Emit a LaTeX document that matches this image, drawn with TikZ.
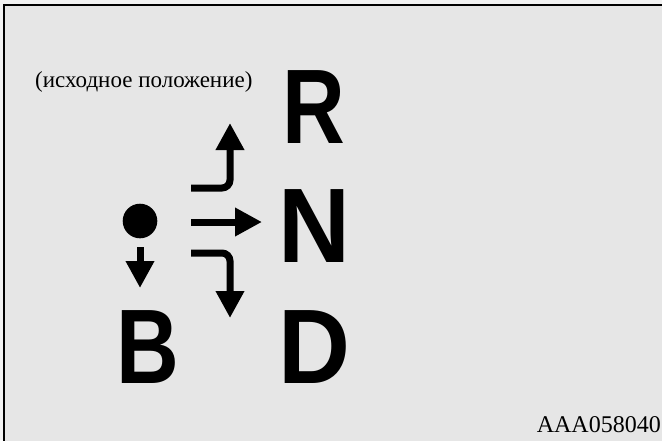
\documentclass[tikz,border=0pt]{standalone}
\usepackage{fontspec}
\usepackage{graphicx}
\setmainfont{Liberation Serif}
\newfontfamily\gearfont{Liberation Sans}
\usetikzlibrary{arrows.meta}
\definecolor{panel}{RGB}{230,230,230}
\definecolor{paper}{RGB}{242,242,242}
\pgfdeclarelayer{bglayer}
\pgfdeclarelayer{edgelayer}
\pgfdeclarelayer{nodelayer}
\pgfsetlayers{bglayer,edgelayer,nodelayer,main}
\newcommand{\slim}[2]{\scalebox{#1}[1]{#2}}
\tikzstyle{lever}=[draw=black, line width=7pt, rounded corners=8pt, -{Triangle[width=27pt,length=27pt]}]
\tikzstyle{gear}=[font=\gearfont\bfseries\fontsize{106}{106}\selectfont, inner sep=0pt, anchor=base]
\tikzstyle{knob}=[circle, fill=black, minimum size=34.6pt, inner sep=0pt]
\tikzstyle{note}=[font=\fontsize{23}{27}\selectfont, inner sep=0pt]

\begin{document}
\begin{tikzpicture}[x=1pt,y=-1pt]
			\useasboundingbox (0,0) rectangle (662,440);
			\clip (0,0) rectangle (662,440);
			\begin{pgfonlayer}{bglayer}
			\fill[paper] (0,0) rectangle (662,440);
			\draw[fill=panel, line width=2pt] (4,5) rectangle (680,460);
			\end{pgfonlayer}
			\begin{pgfonlayer}{nodelayer}
			\node [style=note, anchor=base west] (start) at (35,87) {(исходное положение)};
			\node [style=note, anchor=base east, font=\fontsize{24}{28}\selectfont] (code) at (661,432) {AAA058040};
			\node [style=gear] (R) at (313.5,143) {\slim{0.82}{R}};
			\node [style=gear] (N) at (314,262) {\slim{0.94}{N}};
			\node [style=gear] (D) at (314,383) {\slim{0.94}{D}};
			\node [style=gear] (B) at (147.5,383) {\slim{0.82}{B}};
			\node [style=knob] (knob) at (140,221) {};
			\coordinate (park0) at (140,247);
			\coordinate (park1) at (140,288);
			\coordinate (up0) at (191,188);
			\coordinate (up1) at (230,123);
			\coordinate (mid0) at (191,222);
			\coordinate (mid1) at (262,222);
			\coordinate (down0) at (191,253);
			\coordinate (down1) at (230,318);
			\end{pgfonlayer}
			\begin{pgfonlayer}{edgelayer}
			\draw [style=lever] (park0) to (park1);
			\draw [style=lever] (up0) -| (up1);
			\draw [style=lever] (mid0) to (mid1);
			\draw [style=lever] (down0) -| (down1);
			\end{pgfonlayer}
\end{tikzpicture}
\end{document}
